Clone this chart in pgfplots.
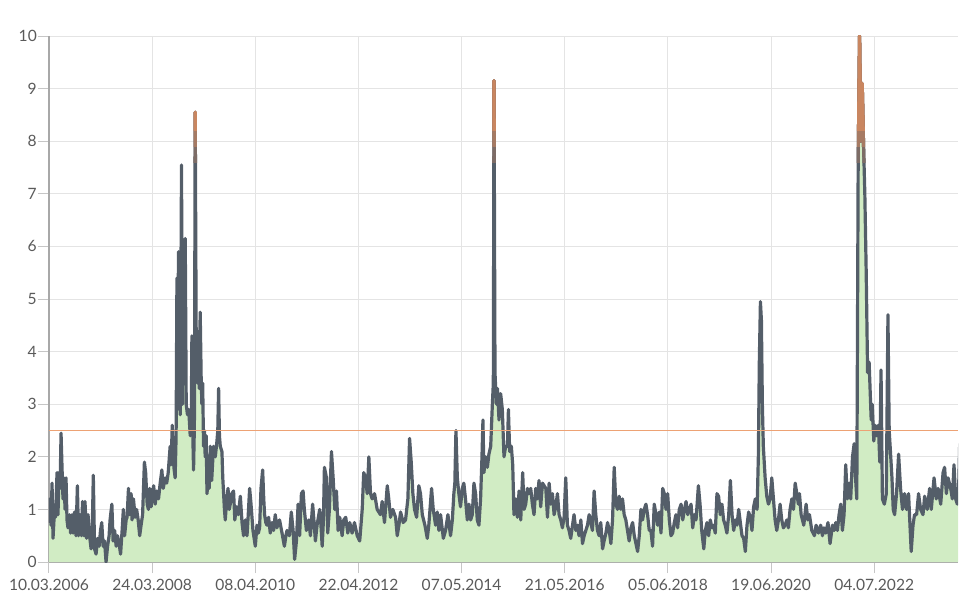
\documentclass[border=0pt]{standalone}
\usepackage{fontspec}
\setmainfont{Lato}
\usepackage{pgfplots}
\usepackage{pgfplotstable}
\pgfplotsset{compat=1.18}
\definecolor{linegray}{HTML}{545E69}
\definecolor{fillgreen}{HTML}{D1ECC4}
\definecolor{refline}{HTML}{EDA274}
\definecolor{peak}{HTML}{C98660}
\definecolor{gridc}{HTML}{E4E4E4}
\definecolor{axisc}{HTML}{A8A8A8}
\definecolor{textc}{HTML}{5A5A5A}

\pgfplotstableread{
d v
0 0.75
7 1.2
14 0.7
22 1.5
29 0.45
40 1.0
47 0.85
58 1.7
65 0.9
72 1.7
80 1.4
87 2.45
94 1.8
101 1.2
108 1.6
116 1.0
123 1.6
130 0.8
137 0.65
148 0.9
156 0.55
166 0.9
174 0.55
184 0.95
195 0.5
205 1.45
213 0.5
224 0.9
235 0.5
242 1.15
253 0.5
260 1.15
271 0.45
282 0.9
293 0.5
304 0.25
311 0.4
320 1.65
329 0.25
340 0.15
351 0.45
362 0.3
372 0.6
381 0.75
391 0.3
401 0.4
412 0.0
423 0.3
434 0.5
441 0.8
454 1.1
463 0.4
474 0.6
485 0.3
495 0.5
506 0.35
517 0.15
528 0.6
537 1.0
546 0.5
557 0.8
564 0.85
574 1.4
582 0.9
593 1.3
600 0.8
610 1.2
622 0.85
633 1.0
644 0.8
655 0.5
665 0.7
676 0.9
689 1.9
698 1.7
709 1.1
718 1.0
727 1.4
738 1.05
747 1.3
756 1.45
767 1.1
778 1.35
791 1.2
803 1.5
815 1.75
825 1.4
839 1.6
850 1.5
861 1.7
875 2.2
882 1.85
890 2.6
902 1.8
911 1.6
918 2.4
924 5.4
929 2.9
935 5.9
942 5.3
948 2.8
957 7.55
964 3.0
974 5.9
984 6.15
991 3.0
1000 2.8
1009 2.9
1020 2.4
1027 2.5
1032 4.3
1038 2.5
1044 1.75
1050 2.6
1056 8.55
1063 4.3
1068 4.4
1074 3.4
1080 4.3
1085 3.3
1092 4.75
1099 3.5
1104 3.0
1110 3.4
1116 2.2
1123 2.5
1128 2.0
1135 2.4
1141 1.3
1150 1.6
1157 1.4
1165 2.2
1175 1.55
1188 2.2
1201 2.0
1213 2.3
1219 2.5
1225 3.3
1231 2.4
1237 2.2
1249 2.1
1255 1.6
1261 1.3
1267 1.0
1273 0.8
1284 1.2
1293 1.4
1302 1.0
1309 1.1
1320 1.3
1333 1.35
1342 0.8
1353 1.05
1367 0.9
1382 1.25
1394 0.75
1405 0.5
1418 0.8
1430 0.5
1439 0.9
1449 1.4
1459 1.1
1473 0.6
1490 0.3
1502 0.7
1512 0.55
1521 0.65
1531 1.4
1543 1.75
1551 1.2
1557 0.9
1566 0.75
1574 0.7
1586 0.85
1598 0.55
1610 0.75
1622 0.6
1634 0.9
1646 0.65
1656 0.75
1665 0.8
1683 0.55
1700 0.3
1711 0.5
1719 0.6
1736 0.5
1750 0.95
1763 0.6
1774 0.05
1787 0.4
1799 1.1
1810 0.5
1823 1.3
1835 1.35
1844 1.0
1859 0.6
1876 0.8
1888 0.5
1904 1.1
1913 0.8
1924 0.4
1936 0.7
1955 1.0
1964 0.7
1973 0.3
1982 0.8
1989 1.8
2004 1.6
2013 0.55
2025 1.0
2040 2.1
2052 1.6
2064 1.0
2076 1.35
2088 0.6
2100 0.85
2117 0.5
2129 0.8
2143 0.85
2158 0.55
2172 0.75
2189 0.55
2206 0.75
2226 0.5
2244 0.4
2262 1.0
2273 1.7
2286 1.6
2298 1.3
2310 2.0
2322 1.3
2334 1.2
2351 1.3
2370 1.0
2394 0.9
2406 1.15
2423 0.75
2443 1.45
2454 1.2
2466 0.85
2483 1.0
2503 0.85
2515 0.5
2527 0.7
2539 0.95
2558 0.75
2575 0.8
2592 1.2
2604 2.35
2616 1.9
2628 1.3
2640 1.0
2655 0.85
2671 1.45
2683 1.3
2696 0.9
2715 0.7
2732 0.45
2743 0.7
2763 1.4
2775 1.0
2792 0.7
2804 0.95
2816 0.6
2828 0.9
2848 0.45
2864 0.6
2881 0.9
2888 0.75
2900 0.5
2913 0.8
2924 1.3
2931 1.5
2939 2.5
2949 1.6
2960 1.3
2972 1.05
2985 1.4
2996 1.5
3008 1.2
3021 0.8
3033 1.1
3045 0.8
3057 0.9
3069 1.5
3081 1.3
3093 0.8
3105 0.7
3117 1.2
3127 2.0
3134 2.7
3141 1.7
3154 2.0
3166 1.8
3177 2.05
3190 2.2
3202 3.0
3209 3.4
3214 9.15
3221 3.6
3231 3.0
3239 3.3
3250 2.7
3262 3.2
3274 2.9
3286 2.0
3298 2.2
3311 2.2
3318 2.9
3327 2.1
3339 2.2
3349 1.85
3358 0.9
3371 1.2
3383 0.85
3395 1.35
3407 0.8
3421 1.7
3431 1.0
3443 1.1
3455 1.4
3467 1.3
3479 1.4
3491 1.1
3503 0.9
3515 1.4
3527 1.2
3539 1.55
3551 1.05
3564 1.5
3576 1.45
3588 1.4
3600 0.85
3612 1.5
3624 1.1
3636 1.3
3648 0.9
3660 1.05
3672 1.3
3684 0.9
3696 0.8
3708 0.65
3720 0.85
3732 1.6
3744 0.7
3756 0.6
3768 0.45
3781 0.7
3792 0.9
3805 0.6
3817 0.7
3828 0.5
3841 0.8
3853 0.35
3865 0.5
3877 0.6
3889 0.7
3901 0.9
3913 0.75
3925 0.6
3937 1.35
3949 0.9
3961 0.6
3973 0.5
3985 0.75
3998 0.25
4009 0.4
4022 0.55
4034 0.75
4046 0.6
4058 0.35
4070 0.8
4082 1.8
4094 1.1
4106 1.0
4118 1.25
4130 1.0
4142 1.2
4154 0.9
4166 0.8
4178 0.6
4190 0.4
4203 0.65
4215 0.75
4227 0.5
4239 0.35
4251 0.2
4263 0.5
4275 1.0
4287 0.8
4299 1.0
4311 1.1
4323 0.9
4335 0.6
4347 0.6
4359 0.3
4371 1.1
4384 0.9
4396 0.7
4408 0.95
4420 0.55
4432 1.4
4444 1.3
4456 1.0
4468 1.3
4480 0.8
4492 0.5
4504 0.55
4516 0.75
4528 0.9
4540 0.65
4552 1.0
4565 1.1
4577 0.8
4589 1.0
4601 1.15
4613 0.9
4625 1.0
4637 1.1
4649 0.65
4661 0.9
4673 0.8
4690 1.45
4702 1.1
4714 0.6
4729 0.25
4740 0.6
4752 0.75
4764 0.5
4776 0.8
4788 0.65
4800 0.7
4812 0.55
4824 1.3
4836 1.25
4848 0.9
4860 1.1
4872 0.8
4884 0.7
4896 0.55
4909 0.9
4921 1.55
4933 0.9
4945 0.6
4957 0.8
4969 0.7
4981 1.0
4993 0.75
5005 0.5
5017 0.45
5029 0.2
5041 0.7
5053 0.95
5065 0.85
5077 0.6
5089 1.05
5101 1.2
5114 1.0
5123 2.0
5130 3.8
5138 4.95
5145 4.6
5152 3.0
5159 2.2
5172 1.6
5184 1.25
5196 1.1
5208 1.2
5220 1.6
5232 1.2
5244 0.8
5256 0.6
5268 0.8
5280 1.1
5292 0.8
5304 0.65
5316 0.7
5329 0.8
5340 0.65
5352 1.0
5365 1.2
5377 1.0
5389 1.5
5401 1.3
5412 1.1
5420 1.3
5432 0.9
5451 0.7
5468 1.1
5480 0.8
5492 0.9
5509 0.6
5528 0.5
5540 0.7
5557 0.55
5573 0.7
5586 0.5
5597 0.65
5610 0.55
5626 0.75
5641 0.35
5658 0.7
5670 0.6
5682 0.75
5694 0.6
5706 0.9
5718 1.1
5730 0.6
5742 0.9
5754 1.85
5766 1.2
5778 1.5
5790 1.2
5803 2.0
5815 2.25
5825 1.6
5834 1.2
5844 7.6
5854 10.0
5863 8.0
5873 9.1
5883 7.9
5892 7.0
5902 5.5
5912 3.6
5923 3.8
5938 2.7
5945 3.0
5957 2.3
5966 2.6
5976 2.4
5990 2.6
6000 1.9
6009 3.65
6019 1.2
6033 1.1
6047 1.3
6059 4.7
6068 2.5
6077 2.1
6088 1.6
6097 1.0
6107 0.9
6121 1.3
6136 2.05
6150 1.4
6164 1.0
6179 1.3
6193 1.0
6208 1.3
6218 0.7
6227 0.2
6240 0.7
6251 0.9
6266 0.9
6280 1.3
6295 1.0
6312 0.9
6324 1.25
6343 1.0
6360 1.4
6372 1.0
6392 1.6
6408 1.2
6421 1.4
6440 1.1
6457 1.7
6468 1.8
6481 1.3
6493 1.6
6512 1.4
6524 1.2
6536 1.85
6548 1.2
6560 1.1
6570 1.45
6577 2.25
6584 0.7
}\data

\begin{document}
\begin{tikzpicture}
\useasboundingbox (-24.5pt,-25pt) rectangle (461.5pt,281pt);
\begin{axis}[
  at={(0,0)}, anchor=south west,
  scale only axis, width=454.5pt, height=263pt,
  xmin=0, xmax=6565, ymin=0, ymax=10,
  axis lines*=left,
  axis line style={axisc, line width=0.6pt},
  xtick={0,745,...,5960},
  xticklabels={10.03.2006,24.03.2008,08.04.2010,22.04.2012,07.05.2014,21.05.2016,05.06.2018,19.06.2020,04.07.2022},
  ytick={0,1,...,10},
  grid=major,
  major grid style={gridc, line width=0.5pt},
  tick align=outside,
  major tick length=5.5pt,
  tick style={gridc!70!gray, line width=0.5pt},
  /pgf/number format/assume math mode=true,
  tick label style={font=\fontsize{7.8}{9}\selectfont, text=textc, inner sep=0pt},
  xticklabel style={yshift=-3pt},
  yticklabel style={xshift=-0.4pt},
  clip=true,
]
\addplot[draw=none, fill=fillgreen] table[x=d,y=v]{\data} \closedcycle;
\addplot[linegray, line width=1.6pt, line join=round] table[x=d,y=v]{\data};
\addplot[refline, line width=0.8pt] coordinates {(0,2.5) (6565,2.5)};
\end{axis}
% blended upper part of the series: gray fades into orange towards the peaks
\begin{axis}[
  at={(0,199.88pt)}, anchor=south west,
  scale only axis, width=454.5pt, height=63.12pt,
  xmin=0, xmax=6565, ymin=7.6, ymax=10,
  axis lines=none, xtick=\empty, ytick=\empty,
  clip=true,
]
\addplot[peak!35!linegray, line width=1.6pt, line join=round] table[x=d,y=v]{\data};
\end{axis}
\begin{axis}[
  at={(0,207.77pt)}, anchor=south west,
  scale only axis, width=454.5pt, height=55.23pt,
  xmin=0, xmax=6565, ymin=7.9, ymax=10,
  axis lines=none, xtick=\empty, ytick=\empty,
  clip=true,
]
\addplot[peak!70!linegray, line width=1.6pt, line join=round] table[x=d,y=v]{\data};
\end{axis}
\begin{axis}[
  at={(0,215.66pt)}, anchor=south west,
  scale only axis, width=454.5pt, height=47.34pt,
  xmin=0, xmax=6565, ymin=8.2, ymax=10,
  axis lines=none, xtick=\empty, ytick=\empty,
  clip=true,
]
\addplot[peak, line width=1.6pt, line join=round] table[x=d,y=v]{\data};
\end{axis}
\end{tikzpicture}
\end{document}
